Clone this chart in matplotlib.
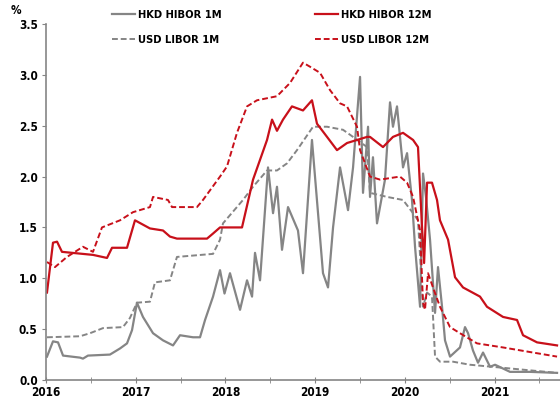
import matplotlib
matplotlib.use("Agg")
import matplotlib.pyplot as plt
from matplotlib.lines import Line2D

plt.rcParams["font.family"] = ["DejaVu Sans"]
plt.rcParams["font.stretch"] = "condensed"
plt.rcParams["font.weight"] = "bold"

# ── Data (decimal years, %) ─────────────────────
hkd12_t = [2016.011, 2016.078, 2016.123, 2016.178, 2016.524, 2016.680, 2016.736, 2016.903,
           2016.992, 2017.159, 2017.304, 2017.382, 2017.460, 2017.795, 2017.862, 2017.940,
           2018.018, 2018.185, 2018.308, 2018.464, 2018.520, 2018.575, 2018.642, 2018.742,
           2018.865, 2018.965, 2019.021, 2019.133, 2019.244, 2019.356, 2019.579, 2019.612,
           2019.757, 2019.868, 2019.980, 2020.092, 2020.147, 2020.192, 2020.215, 2020.248,
           2020.303, 2020.359, 2020.392, 2020.482, 2020.560, 2020.649, 2020.838, 2020.916,
           2021.095, 2021.251, 2021.318, 2021.474, 2021.697]
hkd12_v = [0.86, 1.35, 1.36, 1.26, 1.23, 1.20, 1.30, 1.30,
           1.57, 1.49, 1.47, 1.41, 1.39, 1.39, 1.44, 1.50,
           1.50, 1.50, 1.97, 2.36, 2.56, 2.45, 2.56, 2.69,
           2.65, 2.75, 2.52, 2.39, 2.26, 2.33, 2.39, 2.39,
           2.29, 2.39, 2.43, 2.36, 2.29, 1.50, 1.15, 1.94,
           1.94, 1.77, 1.57, 1.38, 1.01, 0.91, 0.82, 0.72,
           0.62, 0.59, 0.44, 0.37, 0.34]

usd12_t = [2016.011, 2016.100, 2016.234, 2016.412, 2016.524, 2016.624, 2016.825, 2016.970,
           2017.159, 2017.193, 2017.360, 2017.405, 2017.683, 2017.750, 2017.940, 2018.018,
           2018.129, 2018.241, 2018.352, 2018.575, 2018.720, 2018.865, 2018.943, 2019.055,
           2019.166, 2019.278, 2019.356, 2019.467, 2019.501, 2019.612, 2019.724, 2019.946,
           2020.025, 2020.092, 2020.170, 2020.203, 2020.225, 2020.259, 2020.314, 2020.392,
           2020.504, 2020.615, 2020.805, 2021.095, 2021.362, 2021.697]
usd12_v = [1.16, 1.11, 1.21, 1.31, 1.26, 1.50, 1.57, 1.65,
           1.70, 1.80, 1.77, 1.70, 1.70, 1.77, 2.00, 2.10,
           2.43, 2.69, 2.75, 2.79, 2.92, 3.12, 3.08, 3.02,
           2.85, 2.72, 2.69, 2.49, 2.26, 2.00, 1.97, 2.00,
           1.94, 1.80, 1.47, 0.76, 0.69, 1.05, 0.91, 0.72,
           0.52, 0.46, 0.36, 0.32, 0.28, 0.23]

usd1_t = [2016.011, 2016.379, 2016.491, 2016.635, 2016.858, 2016.936, 2017.014, 2017.159,
          2017.215, 2017.382, 2017.460, 2017.862, 2017.940, 2017.973, 2018.196, 2018.308,
          2018.464, 2018.575, 2018.687, 2018.798, 2018.977, 2019.133, 2019.311, 2019.423,
          2019.579, 2019.612, 2019.802, 2019.980, 2020.092, 2020.147, 2020.203, 2020.248,
          2020.303, 2020.337, 2020.392, 2020.537, 2020.727, 2021.095, 2021.697]
usd1_v = [0.42, 0.43, 0.46, 0.51, 0.52, 0.61, 0.76, 0.77,
          0.96, 0.98, 1.21, 1.24, 1.38, 1.54, 1.77, 1.90,
          2.06, 2.06, 2.13, 2.26, 2.49, 2.49, 2.46, 2.39,
          2.29, 1.84, 1.80, 1.77, 1.64, 1.57, 0.72, 0.86,
          0.82, 0.23, 0.18, 0.18, 0.15, 0.12, 0.07]

hkd1_t = [2016.011, 2016.078, 2016.134, 2016.190, 2016.379, 2016.412, 2016.468, 2016.713,
          2016.825, 2016.903, 2016.959, 2017.014, 2017.081, 2017.193, 2017.304, 2017.416,
          2017.494, 2017.639, 2017.717, 2017.773, 2017.862, 2017.940, 2017.990, 2018.051,
          2018.163, 2018.241, 2018.297, 2018.330, 2018.386, 2018.475, 2018.531, 2018.575,
          2018.631, 2018.698, 2018.809, 2018.865, 2018.965, 2019.088, 2019.144, 2019.200,
          2019.278, 2019.367, 2019.423, 2019.501, 2019.534, 2019.590, 2019.612, 2019.645,
          2019.690, 2019.779, 2019.835, 2019.868, 2019.913, 2019.980, 2020.025, 2020.080,
          2020.114, 2020.170, 2020.203, 2020.236, 2020.281, 2020.337, 2020.370, 2020.415,
          2020.448, 2020.504, 2020.615, 2020.671, 2020.705, 2020.760, 2020.816, 2020.872,
          2020.950, 2021.006, 2021.173, 2021.396, 2021.697]
hkd1_v = [0.23, 0.38, 0.37, 0.24, 0.22, 0.21, 0.24, 0.25,
          0.31, 0.36, 0.49, 0.76, 0.62, 0.46, 0.39, 0.34,
          0.44, 0.42, 0.42, 0.59, 0.82, 1.08, 0.85, 1.05,
          0.69, 0.98, 0.82, 1.25, 0.98, 2.09, 1.64, 1.90,
          1.28, 1.70, 1.47, 1.05, 2.36, 1.05, 0.91, 1.50,
          2.09, 1.67, 2.09, 2.98, 1.84, 2.49, 1.80, 2.19,
          1.54, 1.97, 2.73, 2.49, 2.69, 2.09, 2.23, 1.77,
          1.31, 0.72, 2.03, 1.80, 1.38, 0.66, 1.11, 0.72,
          0.39, 0.23, 0.32, 0.52, 0.46, 0.29, 0.17, 0.27,
          0.13, 0.15, 0.08, 0.08, 0.07]

years = [2016, 2017, 2018, 2019, 2020, 2021]
labels = ["HKD HIBOR 1M", "USD LIBOR 1M", "HKD HIBOR 12M", "USD LIBOR 12M"]

GRAY = "#858585"
RED = "#c8101a"

# ── Plot ───────────────────────────────────────
fig = plt.figure(figsize=(5.6, 4.07), dpi=100)
ax = fig.add_axes([46 / 560, 27 / 407, 1 - 46 / 560, 356 / 407])

ax.plot(hkd1_t, hkd1_v, color=GRAY, lw=1.6)
ax.plot(usd1_t, usd1_v, color=GRAY, lw=1.4, ls=(0, (3, 1.5)))
ax.plot(hkd12_t, hkd12_v, color=RED, lw=1.6)
ax.plot(usd12_t, usd12_v, color=RED, lw=1.4, ls=(0, (3, 1.5)))

ax.set_xlim(2016, 2021.73)
ax.set_ylim(0, 3.5)
ax.set_xticks(years)
ax.set_xticklabels([str(y) for y in years])
ax.set_xticks([y + 0.5 for y in years], minor=True)
ax.set_yticks([i * 0.5 for i in range(8)])
ax.set_yticklabels([f"{i * 0.5:.1f}" for i in range(8)])

for s in ["top", "right"]:
    ax.spines[s].set_visible(False)
for s in ["left", "bottom"]:
    ax.spines[s].set_color(GRAY)
    ax.spines[s].set_linewidth(1.2)
ax.tick_params(axis="y", direction="out", length=3, color=GRAY, labelsize=8.5, pad=3)
ax.tick_params(axis="x", which="both", direction="inout", length=4, color=GRAY, labelsize=8.5, pad=2)

handles = [Line2D([], [], color=GRAY, lw=1.6),
           Line2D([], [], color=GRAY, lw=1.4, ls=(0, (3, 1.5))),
           Line2D([], [], color=RED, lw=1.6),
           Line2D([], [], color=RED, lw=1.4, ls=(0, (3, 1.5)))]
fig.legend(handles, labels, ncol=2, loc="upper left", bbox_to_anchor=(105 / 560, 1 - 3 / 407),
           frameon=False, fontsize=8, handlelength=2.07, handletextpad=0.27,
           columnspacing=8.4, labelspacing=1.3, borderaxespad=0.25)

fig.text(16 / 560, 1 - 11 / 407, "%", fontsize=8.5, ha="center", va="center")

fig.savefig("out.png", dpi=100)
